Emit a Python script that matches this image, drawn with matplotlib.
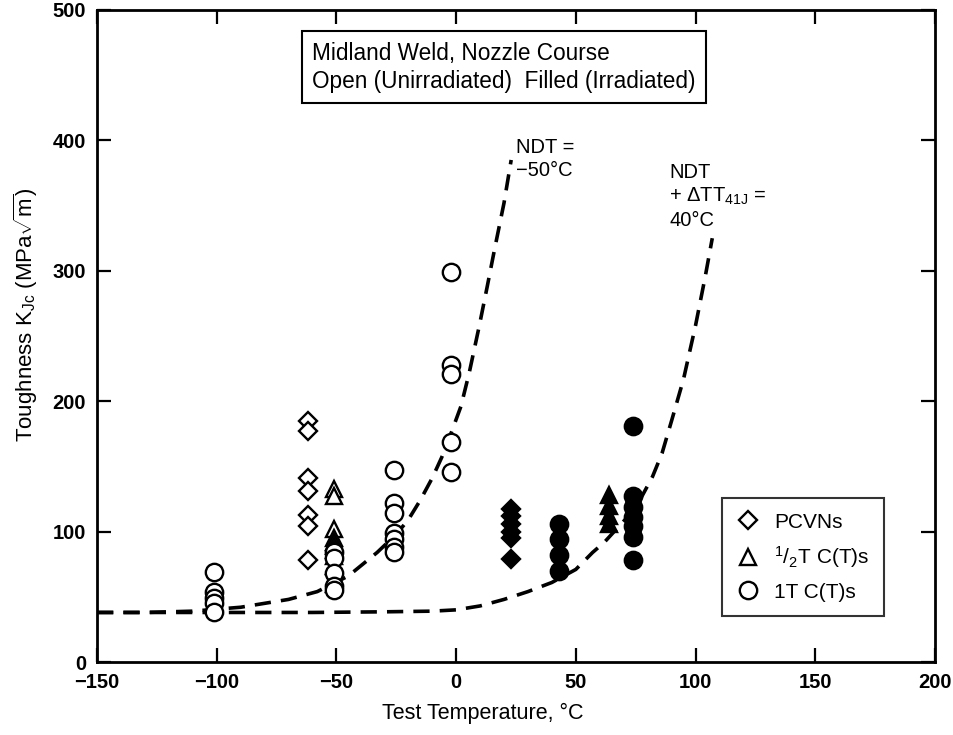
import numpy as np
import matplotlib
matplotlib.use('Agg')
import matplotlib.pyplot as plt
from matplotlib.lines import Line2D

plt.rc('font', family='Liberation Sans', size=14)
plt.rc('mathtext', fontset='custom', rm='Liberation Sans', it='Liberation Sans:italic', bf='Liberation Sans:bold')
plt.rc('axes', linewidth=2)

############## Data ####################

# open = unirradiated, filled = irradiated
pcvn_open_T = [-62, -62, -62, -62, -62, -62, -62]
pcvn_open_K = [185, 177, 141, 131, 113, 104, 78]
pcvn_fill_T = [23, 23, 23, 23, 23, 23]
pcvn_fill_K = [117, 112, 106, 100, 95, 79]

half_open_T = [-51, -51, -51, -51, -51, -51, -51, -51, -51, -51]
half_open_K = [133, 127, 102, 95, 92, 89, 86, 81, 74, 60]
half_fill_T = [64, 64, 64, 64]
half_fill_K = [128, 120, 112, 106]

one_open_T = [-101, -101, -101, -101, -101,
              -51, -51, -51, -51, -51,
              -26, -26, -26, -26, -26, -26, -26,
              -2, -2, -2, -2, -2]
one_open_K = [69, 54, 49, 45, 38,
              84, 80, 68, 58, 55,
              147, 122, 114, 99, 94, 88, 84,
              299, 228, 221, 169, 146]
one_fill_T = [43, 43, 43, 43,
              74, 74, 74, 74, 74, 74, 74]
one_fill_K = [106, 94, 82, 70,
              181, 127, 119, 111, 104, 96, 78]

# dashed curves
ndt1_T = [-150, -130, -110, -90, -70, -58, -45, -33, -25, -20, -15, -10, -6, -2, 2, 5.5, 9.7, 13, 16, 20, 23]
ndt1_K = [38, 38, 39, 42, 48, 54, 66, 84, 98, 109, 124, 141, 157, 176, 196, 222, 258, 288, 316, 352, 385]
ndt2_T = [-150, -60, -30, -10, 0, 10, 20, 30, 40, 50, 57, 62, 66, 72, 77, 82, 86, 90, 95, 100, 104, 107]
ndt2_K = [38, 38, 38.5, 39, 40, 43, 48, 54, 61, 71, 84, 92, 100, 112, 125, 142, 160, 185, 217, 258, 295, 325]

xlabel = 'Test Temperature, °C'
ylabel = r'Toughness K$_{\rm Jc}$ (MPa$\sqrt{\rm m}$)'

############## Plot ####################

fig = plt.figure(figsize=(9.54, 7.35), dpi=100)
ax = fig.add_axes([0.1017, 0.0993, 0.8783, 0.8871])

dash = dict(color='black', linewidth=2.6, linestyle=(0, (4.5, 2.8)), zorder=2)
ax.plot(ndt1_T, ndt1_K, **dash)
ax.plot(ndt2_T, ndt2_K, **dash)

mk = dict(linestyle='none', markeredgecolor='black', markeredgewidth=1.7, zorder=3)
ax.plot(pcvn_open_T, pcvn_open_K, marker='D', markersize=9.5, markerfacecolor='white', **mk)
ax.plot(pcvn_fill_T, pcvn_fill_K, marker='D', markersize=9.5, markerfacecolor='black', **mk)
ax.plot(half_open_T, half_open_K, marker='^', markersize=11, markerfacecolor='white', **mk)
ax.plot(half_fill_T, half_fill_K, marker='^', markersize=11, markerfacecolor='black', **mk)
ax.plot(one_open_T, one_open_K, marker='o', markersize=12.5, markerfacecolor='white', **mk)
ax.plot(one_fill_T, one_fill_K, marker='o', markersize=12.5, markerfacecolor='black', **mk)

ax.set_xlim(-150, 200)
ax.set_ylim(0, 500)
ax.set_xticks(np.arange(-150, 201, 50))
ax.set_yticks(np.arange(0, 501, 100))
ax.set_xticklabels(['\u2212150', '\u2212100', '\u221250', '0', '50', '100', '150', '200'])
ax.tick_params(direction='in', length=10, width=1.6, top=True, right=True, labelsize=14.5, pad=8)
for lab in ax.get_xticklabels() + ax.get_yticklabels():
    lab.set_fontweight('bold')

ax.set_xlabel(xlabel, fontsize=15.5)
ax.set_ylabel(ylabel, fontsize=16)
ax.xaxis.set_label_coords(0.46, -0.062)
ax.yaxis.set_label_coords(-0.068, 0.532)

############## Text ####################

ax.text(-60, 456, 'Midland Weld, Nozzle Course\nOpen (Unirradiated)  Filled (Irradiated)',
        fontsize=16.3, ha='left', va='center', linespacing=1.3,
        bbox=dict(boxstyle='square,pad=0.45', facecolor='white', edgecolor='black', linewidth=1.5))

ax.text(25, 386, 'NDT =\n\u221250°C', fontsize=14.5, ha='left', va='center', linespacing=1.25)
ax.text(89, 357, 'NDT\n+ \u0394TT$_{\\rm 41J}$ =\n40°C', fontsize=14.5, ha='left', va='center', linespacing=1.25)

handles = [
    Line2D([], [], marker='D', markersize=9.5, markerfacecolor='white', **mk),
    Line2D([], [], marker='^', markersize=11, markerfacecolor='white', **mk),
    Line2D([], [], marker='o', markersize=12.5, markerfacecolor='white', **mk),
]
labels = ['PCVNs', r'$^{\rm 1}/_{\rm 2}$T C(T)s', '1T C(T)s']
leg = ax.legend(handles, labels, loc='upper left', bbox_to_anchor=(0.7458, 0.2515),
                borderaxespad=0, frameon=True, fancybox=False, edgecolor='black', fontsize=15,
                labelspacing=0.6, handlelength=1.1, handletextpad=0.7, borderpad=0.7)
leg.get_frame().set_linewidth(1.5)

fig.savefig('out.png', dpi=100)
